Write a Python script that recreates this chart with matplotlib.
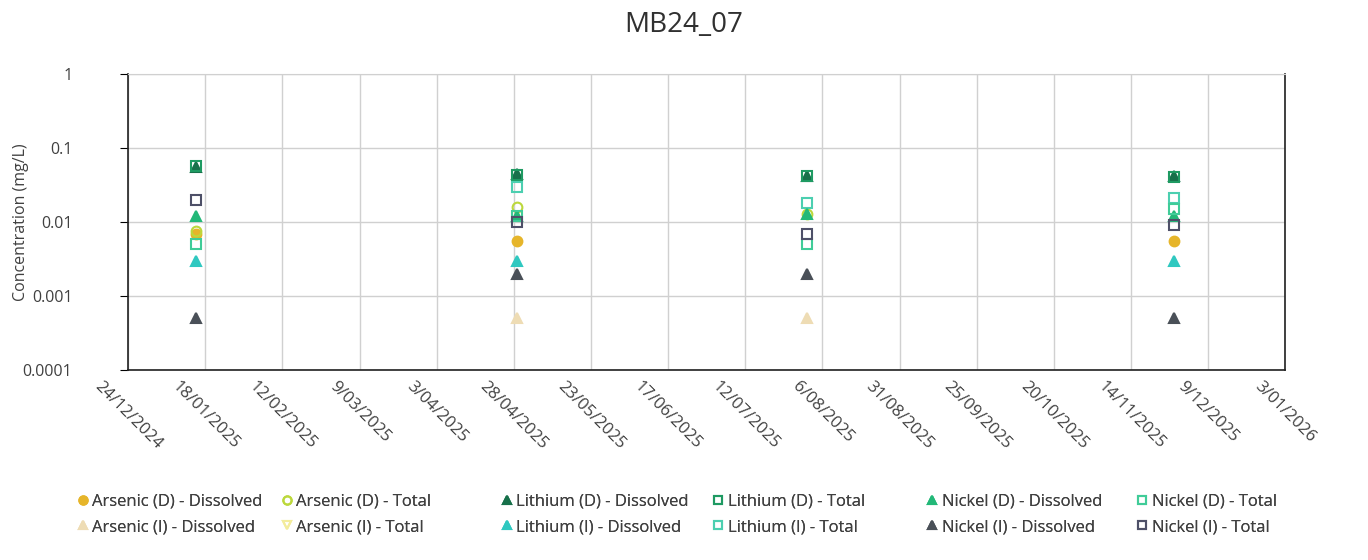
import numpy as np
import matplotlib.pyplot as plt
from datetime import datetime, timedelta

plt.rcParams['font.family'] = ['Open Sans', 'DejaVu Sans']

# datas de amostragem
datas = [datetime(2025, 1, 15), datetime(2025, 4, 29), datetime(2025, 8, 1), datetime(2025, 11, 28)]
nan = np.nan

# concentracoes (mg/L) por serie
arsenic_d_dis = [0.0068, 0.0055, nan, 0.0055]
arsenic_d_tot = [0.0075, 0.016, 0.013, nan]
arsenic_i_dis = [nan, 0.0005, 0.0005, nan]
arsenic_i_tot = [nan, nan, nan, nan]
lithium_d_dis = [0.055, 0.045, 0.042, 0.042]
lithium_d_tot = [0.057, 0.043, 0.042, 0.040]
lithium_i_dis = [0.003, 0.003, nan, 0.003]
lithium_i_tot = [nan, 0.030, 0.018, 0.021]
nickel_d_dis = [0.012, 0.012, 0.013, 0.012]
nickel_d_tot = [0.005, 0.012, 0.005, 0.015]
nickel_i_dis = [0.0005, 0.002, 0.002, 0.0005]
nickel_i_tot = [0.020, 0.010, 0.007, 0.009]

# colunas da legenda: (D) em cima, (I) embaixo
# (nome, valores, marcador, cor, cheio)
colunas = [
    [('Arsenic (D) - Dissolved', arsenic_d_dis, 'o', '#e6b52a', True),
     ('Arsenic (I) - Dissolved', arsenic_i_dis, '^', '#eedcb4', True)],
    [('Arsenic (D) - Total', arsenic_d_tot, 'o', '#bcd83c', False),
     ('Arsenic (I) - Total', arsenic_i_tot, 'v', '#f3ec9c', False)],
    [('Lithium (D) - Dissolved', lithium_d_dis, '^', '#17704a', True),
     ('Lithium (I) - Dissolved', lithium_i_dis, '^', '#2fc8c0', True)],
    [('Lithium (D) - Total', lithium_d_tot, 's', '#1e9a62', False),
     ('Lithium (I) - Total', lithium_i_tot, 's', '#4ccfb0', False)],
    [('Nickel (D) - Dissolved', nickel_d_dis, '^', '#22b878', True),
     ('Nickel (I) - Dissolved', nickel_i_dis, '^', '#4a5058', True)],
    [('Nickel (D) - Total', nickel_d_tot, 's', '#40cc98', False),
     ('Nickel (I) - Total', nickel_i_tot, 's', '#4e5068', False)],
]

fig = plt.figure(figsize=(13.68, 5.6), dpi=100)
ax = fig.add_axes([0.0936, 0.339, 0.846, 0.529])

handles = []
for col in colunas:
    hs = []
    for nome, vals, m, cor, cheio in col:
        h, = ax.plot(datas, vals, linestyle='none', marker=m, markersize=7,
                     markerfacecolor=cor if cheio else 'none', markeredgecolor=cor,
                     markeredgewidth=1.5, label=nome)
        hs.append(h)
    handles.append(hs)

ax.set_yscale('log')
ax.set_ylim(0.0001, 1)
ax.set_yticks([0.0001, 0.001, 0.01, 0.1, 1])
ax.set_yticklabels(['0.0001', '0.001', '0.01', '0.1', '1'])
ax.minorticks_off()

inicio = datetime(2024, 12, 24)
ticks = [inicio + timedelta(days=25 * i) for i in range(16)]
ax.set_xlim(ticks[0], ticks[-1])
ax.set_xticks(ticks)
ax.set_xticklabels([f'{t.day}/{t.month:02d}/{t.year}' for t in ticks],
                   rotation=-45, ha='center', va='top', fontsize=12, color='#404040')
ax.tick_params(axis='y', labelsize=11.5, labelcolor='#404040', length=6, pad=34)
ax.tick_params(axis='x', length=0, pad=6)

ax.grid(True, color='#d0d0d0', linewidth=1)
ax.set_axisbelow(True)
for lado in ['left', 'bottom', 'right']:
    ax.spines[lado].set_color('#202020')
    ax.spines[lado].set_linewidth(1.2)
ax.spines['top'].set_color('#d0d0d0')

ax.set_ylabel('Concentration (mg/L)', fontsize=11.5, color='#404040')
ax.yaxis.set_label_coords(-0.086, 0.5)
fig.text(0.5, 0.955, 'MB24_07', fontsize=20, color='#303030', ha='center', va='center')

# uma legenda por coluna, nas posicoes do original
x_marcador = [83, 287, 507, 718, 932, 1142]
for xm, hs in zip(x_marcador, handles):
    leg = fig.legend(handles=hs, loc='upper left', bbox_to_anchor=((xm - 8) / 1368, 1 - 494 / 560),
                     frameon=False, fontsize=12, handletextpad=0.05, labelspacing=0.55,
                     borderpad=0, borderaxespad=0, markerscale=0.85, handlelength=1.0,
                     labelcolor='#404040')
    fig.add_artist(leg)

plt.savefig('out.png', dpi=100)
